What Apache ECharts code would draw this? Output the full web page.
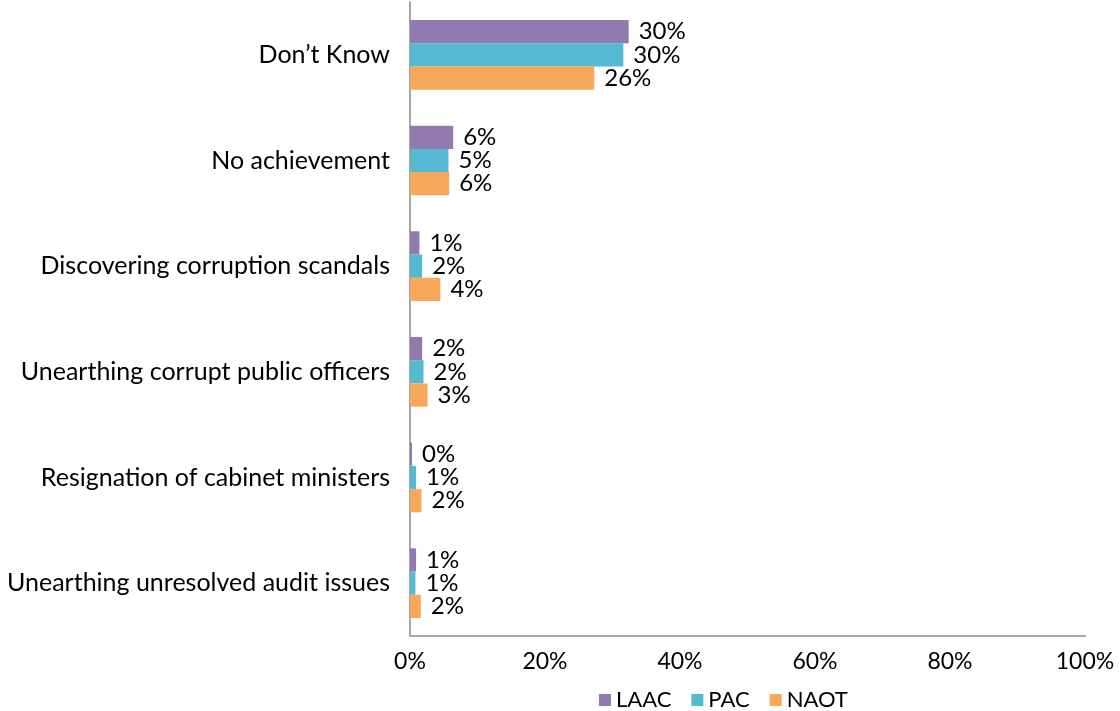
<!DOCTYPE html>
<html>
<head>
<meta charset="utf-8">
<script src="https://cdn.jsdelivr.net/npm/echarts@6/dist/echarts.min.js"></script>
<style>
  html, body { margin: 0; padding: 0; background: #ffffff; }
  #main { width: 1120px; height: 711px; }
</style>
</head>
<body>
<div id="main"></div>
<script>
// categories, top to bottom
var categories = [
  'Don\u2019t Know',
  'No achievement',
  'Discovering corruption scandals',
  'Unearthing corrupt public officers',
  'Resignation of cabinet ministers',
  'Unearthing unresolved audit issues'
];

// bar lengths (percent)
var laac = [32.4, 6.4, 1.4, 1.8, 0.3, 0.9];
var pac  = [31.6, 5.7, 1.8, 2.0, 0.9, 0.8];
var naot = [27.3, 5.8, 4.5, 2.6, 1.7, 1.6];

// label texts printed next to the bars
var laacLabels = ['30%', '6%', '1%', '2%', '0%', '1%'];
var pacLabels  = ['30%', '5%', '2%', '2%', '1%', '1%'];
var naotLabels = ['26%', '6%', '4%', '3%', '2%', '2%'];

var xTicks = [0, 20, 40, 60, 80, 100];

var FONT = 'Lato';

function makeSeries(name, values, labels, color) {
  return {
    name: name,
    type: 'bar',
    data: values,
    barGap: '0%',
    barCategoryGap: '34%',
    itemStyle: { color: color },
    label: {
      show: true,
      position: 'right',
      distance: 10,
      color: '#000',
      fontFamily: FONT,
      fontSize: 24,
      formatter: function (p) { return labels[p.dataIndex]; }
    }
  };
}

var chart = echarts.init(document.getElementById('main'));

var option = {
  backgroundColor: '#ffffff',
  animation: false,
  textStyle: { fontFamily: FONT },
  grid: { left: 410, right: 35, top: 2, bottom: 75, containLabel: false },
  legend: {
    top: 684,
    left: 594,
    itemWidth: 12,
    itemHeight: 12,
    itemGap: 20,
    icon: 'rect',
    textStyle: { fontFamily: FONT, fontSize: 22, color: '#000' },
    data: ['LAAC', 'PAC', 'NAOT']
  },
  xAxis: {
    type: 'value',
    min: xTicks[0],
    max: xTicks[xTicks.length - 1],
    interval: 20,
    axisLine: { show: true, lineStyle: { color: '#a6a6a6', width: 2 } },
    axisTick: { show: false },
    splitLine: { show: false },
    axisLabel: {
      color: '#000',
      fontFamily: FONT,
      fontSize: 23,
      margin: 14,
      formatter: '{value}%'
    }
  },
  yAxis: {
    type: 'category',
    inverse: true,
    data: categories,
    axisLine: { show: true, lineStyle: { color: '#a6a6a6', width: 2 } },
    axisTick: { show: false },
    axisLabel: {
      color: '#000',
      fontFamily: FONT,
      fontSize: 25,
      margin: 20
    }
  },
  series: [
    makeSeries('LAAC', laac, laacLabels, '#927ab0'),
    makeSeries('PAC', pac, pacLabels, '#55bad1'),
    makeSeries('NAOT', naot, naotLabels, '#f8a85a')
  ]
};

chart.setOption(option);
</script>
</body>
</html>
